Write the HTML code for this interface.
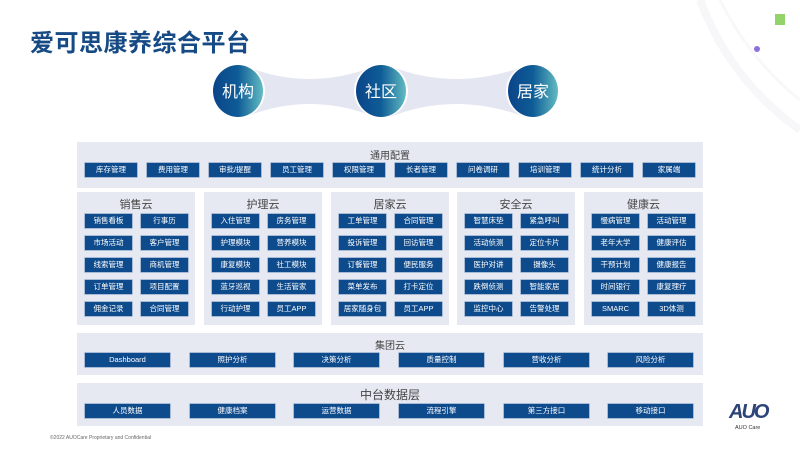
<!DOCTYPE html>
<html><head><meta charset="utf-8"><style>
*{margin:0;padding:0;box-sizing:border-box}
body{width:800px;height:450px;position:relative;overflow:hidden;background:#fff;font-family:"Liberation Sans","Noto Sans CJK SC",sans-serif}
.p{position:absolute;background:#e6e9f2}
.t{position:absolute;left:0;right:0;text-align:center;color:#444;}
.b{position:absolute;height:14px;background:#0e4b8c;color:#fff;font-size:7.5px;line-height:14px;text-align:center;white-space:nowrap;box-shadow:0 0 0 0.6px #7d9cc4}
.c .b{width:47px}
.g .b{width:85px}
.f .b{width:52px}
</style></head><body>
<svg style="position:absolute;left:0;top:0" width="800" height="450">
<path d="M700 0 Q730 80 800 130" stroke="#f7f7f9" stroke-width="8" fill="none"/>
<path d="M720 0 Q750 60 800 100" stroke="#f8f8fa" stroke-width="3" fill="none"/>
<rect x="775" y="14" width="10" height="11" fill="#93d46a"/>
<circle cx="757" cy="49" r="3" fill="#8d6fe0"/>
<defs><linearGradient id="gr" x1="0" x2="1" y1="0" y2="0"><stop offset="0" stop-color="#0a4589"/><stop offset="0.5" stop-color="#0f5c97"/><stop offset="1" stop-color="#63bcc2"/></linearGradient></defs>
<path d="M245 66 Q310 92 375 66 L375 117 Q310 91 245 117 Z" fill="#e4e7f1"/>
<path d="M390 66 Q455 92 525 66 L525 117 Q455 91 390 117 Z" fill="#e4e7f1"/>
<circle cx="238" cy="91" r="27" fill="#fff"/><circle cx="381" cy="91" r="27" fill="#fff"/><circle cx="533" cy="91" r="27" fill="#fff"/>
<ellipse cx="238" cy="91" rx="25" ry="26" fill="url(#gr)"/>
<ellipse cx="381" cy="91" rx="25" ry="26" fill="url(#gr)"/>
<ellipse cx="533" cy="91" rx="25" ry="26" fill="url(#gr)"/>
<text x="238" y="97" text-anchor="middle" font-size="16" fill="#fff" font-family="Liberation Sans,Noto Sans CJK SC,sans-serif">机构</text>
<text x="381" y="97" text-anchor="middle" font-size="16" fill="#fff" font-family="Liberation Sans,Noto Sans CJK SC,sans-serif">社区</text>
<text x="533" y="97" text-anchor="middle" font-size="16" fill="#fff" font-family="Liberation Sans,Noto Sans CJK SC,sans-serif">居家</text>
</svg>
<div style="position:absolute;left:30px;top:23px;font-size:24px;font-weight:bold;color:#164a84;letter-spacing:0.5px">爱可思康养综合平台</div>

<div class="p f" style="left:77px;top:142px;width:626px;height:46px">
<div class="t" style="top:5px;font-size:10px">通用配置</div>
<div class="b" style="left:8px;top:21px">库存管理</div>
<div class="b" style="left:70px;top:21px">费用管理</div>
<div class="b" style="left:132px;top:21px">审批/提醒</div>
<div class="b" style="left:194px;top:21px">员工管理</div>
<div class="b" style="left:256px;top:21px">权限管理</div>
<div class="b" style="left:318px;top:21px">长者管理</div>
<div class="b" style="left:380px;top:21px">问卷调研</div>
<div class="b" style="left:442px;top:21px">培训管理</div>
<div class="b" style="left:504px;top:21px">统计分析</div>
<div class="b" style="left:566px;top:21px">家属端</div>
</div>

<div class="p c" style="left:77px;top:192px;width:118px;height:133px">
<div class="t" style="top:4px;font-size:11px">销售云</div>
<div class="b" style="left:8px;top:22px">销售看板</div><div class="b" style="left:64px;top:22px">行事历</div>
<div class="b" style="left:8px;top:44px">市场活动</div><div class="b" style="left:64px;top:44px">客户管理</div>
<div class="b" style="left:8px;top:66px">线索管理</div><div class="b" style="left:64px;top:66px">商机管理</div>
<div class="b" style="left:8px;top:88px">订单管理</div><div class="b" style="left:64px;top:88px">项目配置</div>
<div class="b" style="left:8px;top:110px">佣金记录</div><div class="b" style="left:64px;top:110px">合同管理</div>
</div>
<div class="p c" style="left:204px;top:192px;width:118px;height:133px">
<div class="t" style="top:4px;font-size:11px">护理云</div>
<div class="b" style="left:8px;top:22px">入住管理</div><div class="b" style="left:64px;top:22px">房务管理</div>
<div class="b" style="left:8px;top:44px">护理模块</div><div class="b" style="left:64px;top:44px">营养模块</div>
<div class="b" style="left:8px;top:66px">康复模块</div><div class="b" style="left:64px;top:66px">社工模块</div>
<div class="b" style="left:8px;top:88px">蓝牙巡视</div><div class="b" style="left:64px;top:88px">生活管家</div>
<div class="b" style="left:8px;top:110px">行动护理</div><div class="b" style="left:64px;top:110px">员工APP</div>
</div>
<div class="p c" style="left:331px;top:192px;width:118px;height:133px">
<div class="t" style="top:4px;font-size:11px">居家云</div>
<div class="b" style="left:8px;top:22px">工单管理</div><div class="b" style="left:64px;top:22px">合同管理</div>
<div class="b" style="left:8px;top:44px">投诉管理</div><div class="b" style="left:64px;top:44px">回访管理</div>
<div class="b" style="left:8px;top:66px">订餐管理</div><div class="b" style="left:64px;top:66px">便民服务</div>
<div class="b" style="left:8px;top:88px">菜单发布</div><div class="b" style="left:64px;top:88px">打卡定位</div>
<div class="b" style="left:8px;top:110px">居家随身包</div><div class="b" style="left:64px;top:110px">员工APP</div>
</div>
<div class="p c" style="left:457px;top:192px;width:118px;height:133px">
<div class="t" style="top:4px;font-size:11px">安全云</div>
<div class="b" style="left:8px;top:22px">智慧床垫</div><div class="b" style="left:64px;top:22px">紧急呼叫</div>
<div class="b" style="left:8px;top:44px">活动侦测</div><div class="b" style="left:64px;top:44px">定位卡片</div>
<div class="b" style="left:8px;top:66px">医护对讲</div><div class="b" style="left:64px;top:66px">摄像头</div>
<div class="b" style="left:8px;top:88px">跌倒侦测</div><div class="b" style="left:64px;top:88px">智能家居</div>
<div class="b" style="left:8px;top:110px">监控中心</div><div class="b" style="left:64px;top:110px">告警处理</div>
</div>
<div class="p c" style="left:584px;top:192px;width:119px;height:133px">
<div class="t" style="top:4px;font-size:11px">健康云</div>
<div class="b" style="left:8px;top:22px">慢病管理</div><div class="b" style="left:64px;top:22px">活动管理</div>
<div class="b" style="left:8px;top:44px">老年大学</div><div class="b" style="left:64px;top:44px">健康评估</div>
<div class="b" style="left:8px;top:66px">干预计划</div><div class="b" style="left:64px;top:66px">健康报告</div>
<div class="b" style="left:8px;top:88px">时间银行</div><div class="b" style="left:64px;top:88px">康复理疗</div>
<div class="b" style="left:8px;top:110px">SMARC</div><div class="b" style="left:64px;top:110px">3D体测</div>
</div>

<div class="p g" style="left:77px;top:333px;width:626px;height:42px">
<div class="t" style="top:4px;font-size:10px">集团云</div>
<div class="b" style="left:8px;top:20px">Dashboard</div>
<div class="b" style="left:113px;top:20px">照护分析</div>
<div class="b" style="left:217px;top:20px">决策分析</div>
<div class="b" style="left:322px;top:20px">质量控制</div>
<div class="b" style="left:427px;top:20px">营收分析</div>
<div class="b" style="left:531px;top:20px">风险分析</div>
</div>
<div class="p g" style="left:77px;top:383px;width:626px;height:43px">
<div class="t" style="top:3px;font-size:12px">中台数据层</div>
<div class="b" style="left:8px;top:21px">人员数据</div>
<div class="b" style="left:113px;top:21px">健康档案</div>
<div class="b" style="left:217px;top:21px">运营数据</div>
<div class="b" style="left:322px;top:21px">流程引擎</div>
<div class="b" style="left:427px;top:21px">第三方接口</div>
<div class="b" style="left:531px;top:21px">移动接口</div>
</div>

<div style="position:absolute;left:729px;top:401px;font-size:20px;font-weight:bold;font-style:italic;color:#2c4478;letter-spacing:-2px">AUO</div>
<div style="position:absolute;left:735px;top:425px;font-size:5.5px;color:#333">AUO Care</div>
<div style="position:absolute;left:50px;top:435px;font-size:5px;color:#666">©2022 AUOCare Proprietary and Confidential</div>
</body></html>
